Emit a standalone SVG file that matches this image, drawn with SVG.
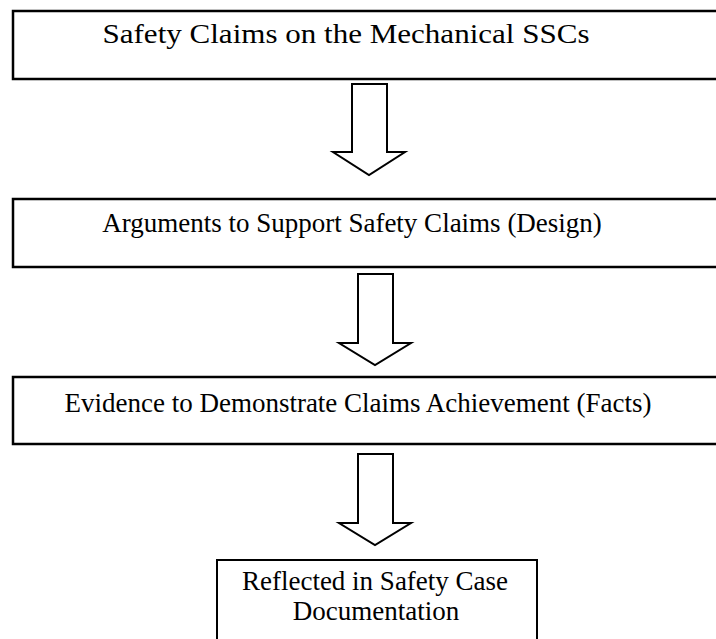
<svg xmlns="http://www.w3.org/2000/svg" width="716" height="639" viewBox="0 0 716 639">
<style>
.box{fill:#fff;stroke:#000;stroke-width:2.5}
.box4{fill:#fff;stroke:#000;stroke-width:2}
.arr{fill:#fff;stroke:#000;stroke-width:2;stroke-linejoin:miter}
text{font-family:"Liberation Serif","Times New Roman",serif;font-size:27px;fill:#000;text-anchor:middle}
</style>
<rect width="716" height="639" fill="#fff"/>
<g id="claims">
<rect class="box" x="13" y="11" width="720" height="68"/>
<text x="346" y="43" font-size="29" textLength="487" lengthAdjust="spacingAndGlyphs">Safety Claims on the Mechanical SSCs</text>
</g>
<g id="arguments">
<rect class="box" x="13" y="199" width="720" height="68"/>
<text x="352" y="232">Arguments to Support Safety Claims (Design)</text>
</g>
<g id="evidence">
<rect class="box" x="13" y="377" width="720" height="67"/>
<text x="358" y="412">Evidence to Demonstrate Claims Achievement (Facts)</text>
</g>
<g id="documentation">
<rect class="box4" x="217" y="560" width="320" height="90"/>
<text x="375" y="590">Reflected in Safety Case</text>
<text x="376" y="620">Documentation</text>
</g>
<g id="connectors">
<path class="arr" d="M352,84 H387 V152 H405 L369,175 L333,152 H352 Z"/>
<path class="arr" d="M358,274 H393 V343 H411 L375,365 L339,343 H358 Z"/>
<path class="arr" d="M358,454 H393 V523 H411 L375,545 L339,523 H358 Z"/>
</g>
</svg>
